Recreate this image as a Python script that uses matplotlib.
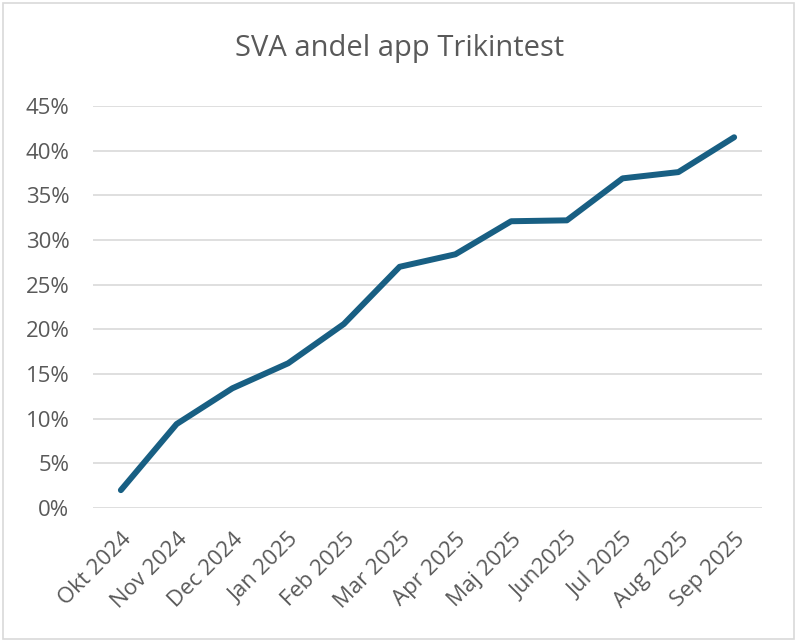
import matplotlib.pyplot as plt
from matplotlib.patches import Rectangle
from matplotlib.ticker import PercentFormatter

months = ['Okt 2024', 'Nov 2024', 'Dec 2024', 'Jan 2025', 'Feb 2025', 'Mar 2025',
          'Apr 2025', 'Maj 2025', 'Jun2025', 'Jul 2025', 'Aug 2025', 'Sep 2025']
share = [0.020, 0.094, 0.134, 0.162, 0.206, 0.270,
         0.284, 0.321, 0.322, 0.369, 0.376, 0.415]
yticks = [0, 0.05, 0.10, 0.15, 0.20, 0.25, 0.30, 0.35, 0.40, 0.45]

plt.rcParams['font.family'] = ['Open Sans', 'DejaVu Sans']
text_col = '#595959'

fig = plt.figure(figsize=(7.99, 6.42), dpi=100)
ax = fig.add_axes([0.1164, 0.2087, 0.8373, 0.6262])

x = list(range(len(months)))
ax.plot(x, share, color='#185F83', linewidth=4.3, solid_capstyle='round',
        solid_joinstyle='round', zorder=3)

ax.set_xlim(-0.5, len(months) - 0.5)
ax.set_ylim(0, 0.45)
ax.set_yticks(yticks)
ax.yaxis.set_major_formatter(PercentFormatter(1.0, decimals=0))
ax.set_xticks(x)
ax.set_xticklabels(months, rotation=45, ha='right', rotation_mode='anchor')

ax.grid(axis='y', color='#d9d9d9', linewidth=1.2)
ax.set_axisbelow(True)
for s in ax.spines.values():
    s.set_visible(False)
ax.tick_params(axis='both', length=0, colors=text_col, labelsize=16)
ax.tick_params(axis='y', pad=17)
ax.tick_params(axis='x', pad=15)

fig.text(0.5, 0.925, 'SVA andel app Trikintest', ha='center', va='center',
         fontsize=21, color=text_col)

fig.patches.append(Rectangle((0.004, 0.005), 0.99, 0.99, transform=fig.transFigure,
                             fill=False, edgecolor='#d9d9d9', linewidth=1.2))

fig.savefig('out.png', dpi=100)
